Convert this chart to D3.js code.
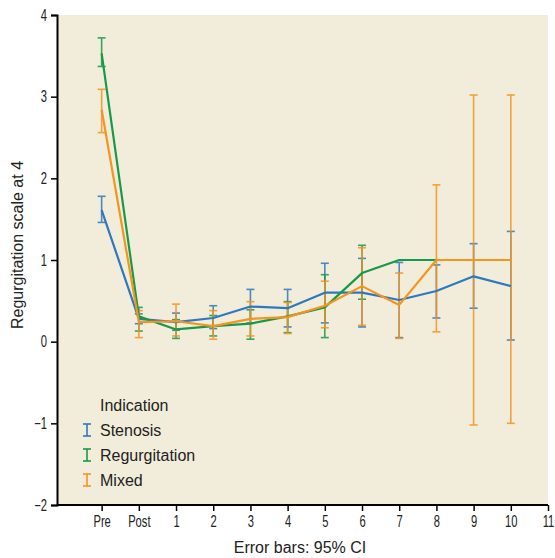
<!DOCTYPE html>
<html>
<head>
<meta charset="utf-8">
<script src="https://cdn.jsdelivr.net/npm/d3@7"></script>
<style>
  body { margin: 0; background: #fff; }
  svg { display: block; }
  .tick text { font-family: "Liberation Sans Narrow", "Liberation Sans", "DejaVu Sans", sans-serif; }
</style>
</head>
<body>
<div id="chart"></div>
<script>
// Categories along the x axis (the last tick, 11, has no data)
const categories = ["Pre", "Post", "1", "2", "3", "4", "5", "6", "7", "8", "9", "10"];
const xTickLabels = ["Pre", "Post", "1", "2", "3", "4", "5", "6", "7", "8", "9", "10", "11"];
const yTicks = [-2, -1, 0, 1, 2, 3, 4];

// Stenosis
const stenosisMean = [1.61, 0.28, 0.24, 0.29, 0.43, 0.41, 0.60, 0.60, 0.51, 0.62, 0.80, 0.68];
const stenosisLow  = [1.46, 0.22, 0.14, 0.16, 0.23, 0.18, 0.23, 0.18, 0.05, 0.29, 0.41, 0.02];
const stenosisHigh = [1.78, 0.34, 0.35, 0.44, 0.64, 0.64, 0.96, 1.02, 0.97, 0.94, 1.20, 1.35];

// Regurgitation
const regurgMean = [3.53, 0.31, 0.15, 0.19, 0.22, 0.31, 0.42, 0.84, 1.00, 1.00, null, null];
const regurgLow  = [3.37, 0.13, 0.04, 0.07, 0.03, 0.11, 0.05, 0.52, null, null, null, null];
const regurgHigh = [3.72, 0.42, 0.27, 0.32, 0.39, 0.49, 0.82, 1.18, null, null, null, null];

// Mixed
const mixedMean = [2.84, 0.24, 0.25, 0.19, 0.28, 0.30, 0.44, 0.68, 0.45, 1.00, 1.00, 1.00];
const mixedLow  = [2.56, 0.05, 0.07, 0.03, 0.07, 0.10, 0.17, 0.20, 0.04, 0.12, -1.02, -1.00];
const mixedHigh = [3.09, 0.38, 0.46, 0.38, 0.49, 0.48, 0.74, 1.15, 0.84, 1.92, 3.02, 3.02];

const seriesNames = ["Stenosis", "Regurgitation", "Mixed"];
const seriesColors = ["#2f78bd", "#17994a", "#f5941f"];

const series = [
  { name: seriesNames[0], color: seriesColors[0], mean: stenosisMean, low: stenosisLow, high: stenosisHigh },
  { name: seriesNames[1], color: seriesColors[1], mean: regurgMean, low: regurgLow, high: regurgHigh },
  { name: seriesNames[2], color: seriesColors[2], mean: mixedMean, low: mixedLow, high: mixedHigh },
];

const width = 555, height = 558;
const margin = { top: 15, right: 7, bottom: 53, left: 57 };
const innerW = width - margin.left - margin.right;
const innerH = height - margin.top - margin.bottom;

const svg = d3.select("#chart").append("svg")
  .attr("width", width)
  .attr("height", height);

const g = svg.append("g").attr("transform", `translate(${margin.left},${margin.top})`);

const x = d3.scaleLinear().domain([-1.2, 12]).range([0, innerW]);
const y = d3.scaleLinear().domain([-2, 4]).range([innerH, 0]);

// Plot background
g.append("rect")
  .attr("width", innerW)
  .attr("height", innerH)
  .attr("fill", "#f1edda");

// Error bars
const capW = 4;
series.forEach((s) => {
  const bars = g.append("g")
    .attr("stroke", s.color)
    .attr("stroke-width", 1.6)
    .attr("opacity", 0.85);
  categories.forEach((c, i) => {
    if (s.low[i] == null || s.high[i] == null) return;
    const cx = x(i);
    bars.append("line")
      .attr("x1", cx).attr("x2", cx)
      .attr("y1", y(s.low[i])).attr("y2", y(s.high[i]));
    [s.low[i], s.high[i]].forEach((v) => {
      bars.append("line")
        .attr("x1", cx - capW).attr("x2", cx + capW)
        .attr("y1", y(v)).attr("y2", y(v));
    });
  });
});

// Mean lines
const line = d3.line()
  .defined((d) => d.v != null)
  .x((d) => x(d.i))
  .y((d) => y(d.v));

series.forEach((s) => {
  g.append("path")
    .datum(s.mean.map((v, i) => ({ i, v })))
    .attr("fill", "none")
    .attr("stroke", s.color)
    .attr("stroke-width", 2.2)
    .attr("stroke-linejoin", "round")
    .attr("d", line);
});

// narrow look for tick labels (no condensed font installed)
const squeeze = 0.7;

// Y axis
g.append("g")
  .call(d3.axisLeft(y).tickValues(yTicks).tickSize(6).tickPadding(4)
    .tickFormat((d) => (d < 0 ? "\u2212" + Math.abs(d) : d)))
  .call((a) => a.select(".domain").attr("stroke", "#000").attr("stroke-width", 2))
  .call((a) => a.selectAll(".tick line").attr("stroke", "#000").attr("stroke-width", 1.5))
  .selectAll("text")
  .attr("fill", "#222")
  .attr("x", -10 / squeeze)
  .attr("transform", `scale(${squeeze},1)`)
  .style("font-size", "16px");

// X axis
g.append("g")
  .attr("transform", `translate(0,${innerH})`)
  .call(d3.axisBottom(x).tickValues(d3.range(xTickLabels.length)).tickSize(6).tickPadding(5)
    .tickFormat((d) => xTickLabels[d]))
  .call((a) => a.select(".domain").attr("stroke", "#000").attr("stroke-width", 2)
    .attr("d", `M0,0H${innerW}`))
  .call((a) => a.selectAll(".tick line").attr("stroke", "#000").attr("stroke-width", 1.5))
  .selectAll("text")
  .attr("fill", "#222")
  .attr("transform", `scale(${squeeze},1)`)
  .style("font-size", "16px");

// Axis titles
svg.append("text")
  .attr("transform", `translate(23,${margin.top + innerH / 2 - 15}) rotate(-90)`)
  .attr("text-anchor", "middle")
  .attr("fill", "#222")
  .style("font-family", "'Liberation Sans', 'DejaVu Sans', sans-serif")
  .style("font-size", "16px")
  .text("Regurgitation scale at 4");

svg.append("text")
  .attr("x", 300)
  .attr("y", 553)
  .attr("text-anchor", "middle")
  .attr("fill", "#222")
  .style("font-family", "'Liberation Sans', 'DejaVu Sans', sans-serif")
  .style("font-size", "16px")
  .text("Error bars: 95% CI");

// Legend
const legend = svg.append("g").attr("transform", "translate(100,405)")
  .style("font-family", "'Liberation Sans', 'DejaVu Sans', sans-serif")
  .style("font-size", "16px");

legend.append("text")
  .attr("x", 0).attr("y", 0).attr("dy", "0.35em")
  .attr("fill", "#222")
  .text("Indication");

series.forEach((s, i) => {
  const item = legend.append("g").attr("transform", `translate(0,${(i + 1) * 25})`);
  const ic = item.append("g").attr("stroke", s.color).attr("stroke-width", 1.6);
  ic.append("line").attr("x1", -13).attr("x2", -13).attr("y1", -6).attr("y2", 6);
  ic.append("line").attr("x1", -17).attr("x2", -9).attr("y1", -6).attr("y2", -6);
  ic.append("line").attr("x1", -17).attr("x2", -9).attr("y1", 6).attr("y2", 6);
  item.append("text")
    .attr("x", 0).attr("y", 0).attr("dy", "0.35em")
    .attr("fill", "#222")
    .text(s.name);
});
</script>
</body>
</html>
